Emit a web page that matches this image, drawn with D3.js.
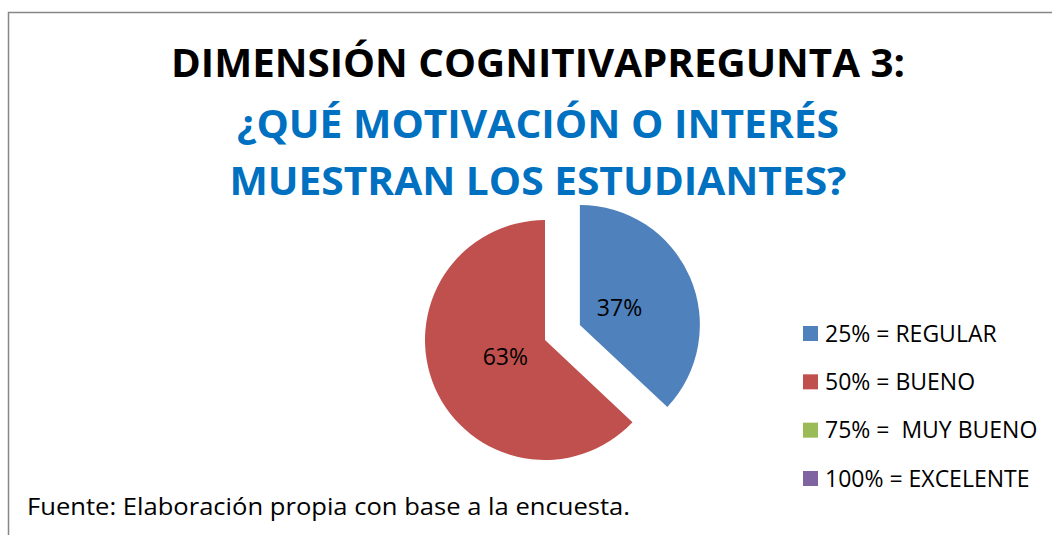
<!DOCTYPE html>
<html>
<head>
<meta charset="utf-8">
<script src="https://cdn.jsdelivr.net/npm/d3@7"></script>
<style>
  body { margin: 0; background: #fff; }
  text { font-family: "Open Sans", sans-serif; }
</style>
</head>
<body>
<div id="chart"></div>
<script>
  // chart data
  const categories = ["25% = REGULAR", "50% = BUENO", "75% =  MUY BUENO", "100% = EXCELENTE"];
  const values = [37, 63, 0, 0];
  const colors = ["#4F81BD", "#C0504D", "#9BBB59", "#8064A2"];
  const titleLines = ["DIMENSIÓN COGNITIVAPREGUNTA 3:", "¿QUÉ MOTIVACIÓN O INTERÉS", "MUESTRAN LOS ESTUDIANTES?"];
  const source = "Fuente: Elaboración propia con base a la encuesta.";

  const width = 1052;
  const height = 535;

  const svg = d3.select("#chart")
    .append("svg")
    .attr("width", width)
    .attr("height", height);

  // outer frame (clipped at the right and bottom in the original)
  svg.append("rect")
    .attr("x", 8.5)
    .attr("y", 12.5)
    .attr("width", width + 20)
    .attr("height", height + 20)
    .attr("fill", "#fff")
    .attr("stroke", "#868686")
    .attr("stroke-width", 1.5);

  // title
  const titleX = 538;
  const titleY = [77, 138, 195];
  const titleW = [734, 602, 617];
  svg.selectAll(".title")
    .data(titleLines)
    .join("text")
    .attr("class", "title")
    .attr("x", titleX)
    .attr("y", (d, i) => titleY[i])
    .attr("text-anchor", "middle")
    .attr("font-size", 39)
    .attr("font-weight", "bold")
    .attr("fill", (d, i) => i === 0 ? "#000" : "#0070C0")
    .attr("textLength", (d, i) => titleW[i])
    .attr("lengthAdjust", "spacingAndGlyphs")
    .text(d => d);

  // pie
  const cx = 545, cy = 340, radius = 120, explode = 38;
  const pie = d3.pie().sort(null).value(d => d);
  const arcs = pie(values);
  const arc = d3.arc().innerRadius(0).outerRadius(radius);
  const labelArc = d3.arc().innerRadius(0).outerRadius(radius * 0.72);

  const offset = (d, i) => {
    if (i !== 0) return [0, 0];
    const a = (d.startAngle + d.endAngle) / 2;
    return [Math.sin(a) * explode, -Math.cos(a) * explode];
  };

  const g = svg.append("g")
    .attr("transform", `translate(${cx}, ${cy})`);

  const slices = g.selectAll(".slice")
    .data(arcs.filter(d => d.value > 0))
    .join("g")
    .attr("class", "slice")
    .attr("transform", (d) => {
      const o = offset(d, d.index);
      return `translate(${o[0]}, ${o[1]})`;
    });

  slices.append("path")
    .attr("d", arc)
    .attr("fill", d => colors[d.index]);

  slices.append("text")
    .attr("transform", d => `translate(${labelArc.centroid(d)})`)
    .attr("text-anchor", "middle")
    .attr("dy", "0.35em")
    .attr("font-size", 23)
    .attr("fill", "#000")
    .text(d => d.value + "%");

  // legend
  const legendY = d3.scalePoint()
    .domain(categories)
    .range([333.5, 478.5]);

  const legend = svg.selectAll(".legend")
    .data(categories)
    .join("g")
    .attr("class", "legend")
    .attr("transform", d => `translate(803, ${legendY(d)})`);

  legend.append("rect")
    .attr("x", 0)
    .attr("y", -7.5)
    .attr("width", 15)
    .attr("height", 15)
    .attr("fill", (d, i) => colors[i]);

  legend.append("text")
    .attr("x", 22)
    .attr("y", 8)
    .attr("font-size", 23)
    .attr("fill", "#000")
    .style("white-space", "pre")
    .text(d => d);

  // source note
  svg.append("text")
    .attr("x", 27)
    .attr("y", 515)
    .attr("font-size", 24)
    .attr("fill", "#000")
    .attr("textLength", 603)
    .attr("lengthAdjust", "spacingAndGlyphs")
    .text(source);
</script>
</body>
</html>
